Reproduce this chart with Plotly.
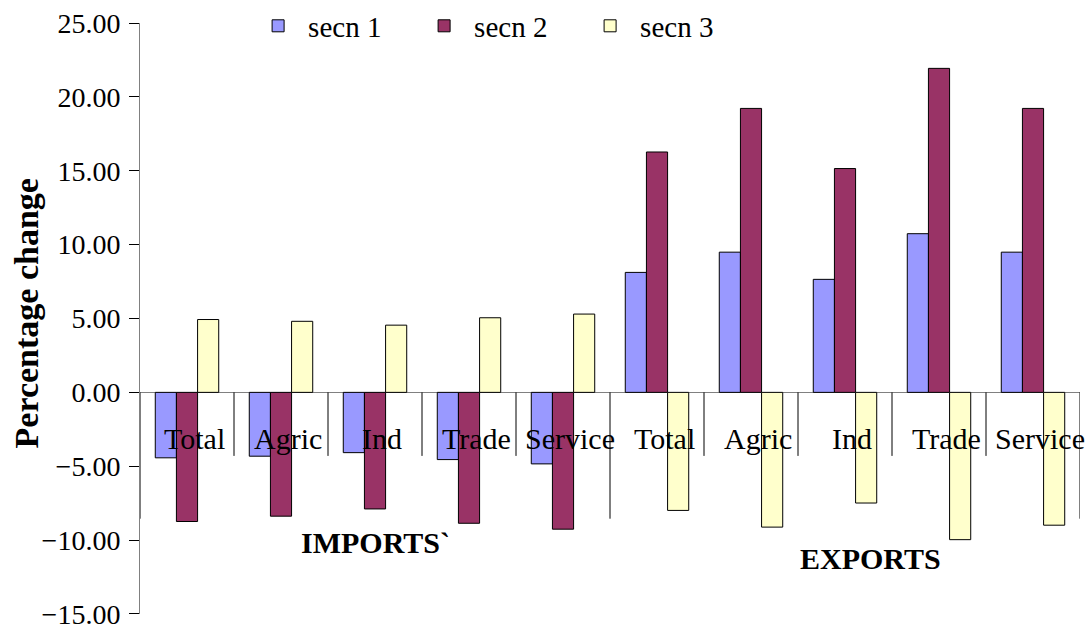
import plotly.graph_objects as go

categories = ["Total", "Agric", "Ind", "Trade", "Service",
              "Total", "Agric", "Ind", "Trade", "Service"]
groups = ["IMPORTS`", "EXPORTS"]
secn1 = [-4.43, -4.32, -4.08, -4.55, -4.84, 8.12, 9.49, 7.65, 10.74, 9.49]
secn2 = [-8.74, -8.38, -7.89, -8.86, -9.26, 16.27, 19.22, 15.15, 21.93, 19.22]
secn3 = [4.93, 4.81, 4.55, 5.05, 5.30, -7.99, -9.12, -7.49, -9.97, -8.99]
series_names = ["secn 1", "secn 2", "secn 3"]
colors = ["#9999FF", "#993366", "#FFFFCC"]
y_ticks = [-15, -10, -5, 0, 5, 10, 15, 20, 25]

FONT = "Liberation Serif"
xs = list(range(len(categories)))

fig = go.Figure()
for name, vals, col in zip(series_names, [secn1, secn2, secn3], colors):
    fig.add_trace(go.Bar(
        x=xs, y=vals, name=name,
        marker=dict(color=col, line=dict(color="#000000", width=1)),
    ))

shapes = []
n = len(categories)
for b in range(n + 1):
    xb = b - 0.5
    long = b in (0, n // 2, n)
    shapes.append(dict(type="line", xref="x", yref="y",
                       x0=xb, x1=xb, y0=0, y1=(-8.55 if long else -4.3),
                       line=dict(color="#000000", width=1)))

annotations = []
for i, c in enumerate(categories):
    annotations.append(dict(x=i, y=-3.15, xref="x", yref="y", text=c,
                            showarrow=False, xshift=7, xanchor="center", yanchor="middle",
                            font=dict(family=FONT, size=30, color="#000000")))
annotations.append(dict(x=0.25, y=-10.15, xref="paper", yref="y", text="<b>" + groups[0] + "</b>",
                        showarrow=False, xanchor="center", yanchor="middle",
                        font=dict(family=FONT, size=30, color="#000000")))
annotations.append(dict(x=0.777, y=-11.27, xref="paper", yref="y", text="<b>" + groups[1] + "</b>",
                        showarrow=False, xanchor="center", yanchor="middle",
                        font=dict(family=FONT, size=30, color="#000000")))
annotations.append(dict(x=-0.121, y=0.509, xref="paper", yref="paper",
                        text="<b>Percentage change</b>", textangle=-90,
                        showarrow=False, xanchor="center", yanchor="middle",
                        font=dict(family=FONT, size=34, color="#000000")))

fig.update_layout(
    width=1092, height=632,
    margin=dict(l=140, r=12, t=23, b=18, autoexpand=False),
    paper_bgcolor="white", plot_bgcolor="white",
    barmode="group", bargap=0.325, bargroupgap=0,
    font=dict(family=FONT, color="#000000"),
    showlegend=True,
    legend=dict(orientation="h", x=0.115, y=0.995, xanchor="left", yanchor="middle",
                font=dict(family=FONT, size=29, color="#000000"),
                bgcolor="rgba(0,0,0,0)", entrywidth=101, entrywidthmode="pixels",
                itemwidth=50, traceorder="normal"),
    shapes=shapes,
    annotations=annotations,
)
fig.update_xaxes(range=[-0.5, n - 0.5], showticklabels=False, showgrid=False,
                 zeroline=False, showline=False, ticks="")
fig.update_yaxes(range=[-15.001, 25.001], tickvals=y_ticks, tickformat=".2f",
                 showgrid=False, zeroline=True, zerolinecolor="#808080", zerolinewidth=1,
                 showline=True, linecolor="#808080", linewidth=1,
                 ticks="outside", ticklen=10, tickcolor="#000000",
                 ticklabelstandoff=3, ticklabeloverflow="allow",
                 tickfont=dict(family=FONT, size=28, color="#000000"))

fig.write_html("out.html")
